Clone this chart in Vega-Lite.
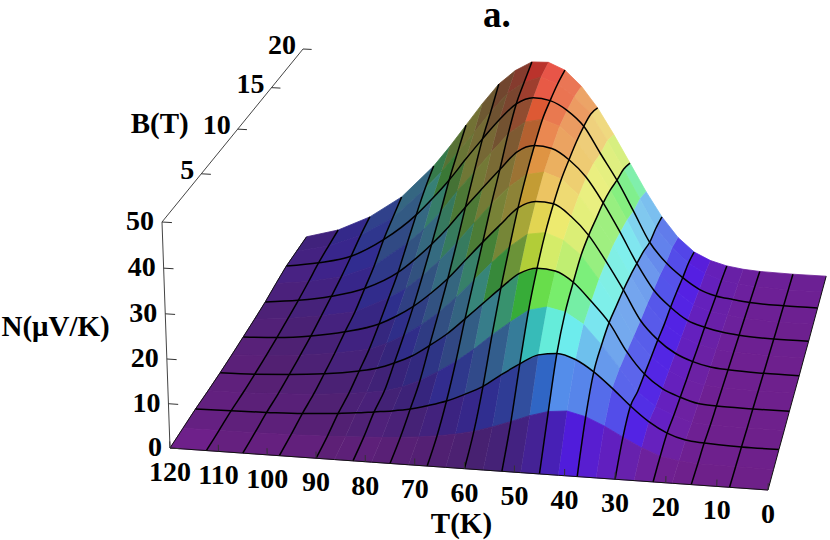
{"$schema":"https://vega.github.io/schema/vega-lite/v6.json","width":830,"height":540,"padding":0,"autosize":{"type":"none"},"background":"white","config":{"view":{"stroke":null}},
"title":{"text":"a.","anchor":"start","dx":483,"offset":-35,"font":"Liberation Serif","fontWeight":"bold","fontSize":37,"color":"black"},
"datasets":{"surface":[
{"T":0,"B":20,"N":0.8},{"T":7.5,"B":20,"N":0.8},{"T":15,"B":20,"N":1},{"T":18.75,"B":20,"N":1.3},{"T":22.5,"B":20,"N":1.9},{"T":26.25,"B":20,"N":3},{"T":30,"B":20,"N":4.9},{"T":33.75,"B":20,"N":8.3},{"T":37.5,"B":20,"N":13.2},{"T":41.25,"B":20,"N":19.3},{"T":45,"B":20,"N":26.1},{"T":48.75,"B":20,"N":32.9},{"T":52.5,"B":20,"N":39.2},{"T":56.25,"B":20,"N":44.3},{"T":60,"B":20,"N":48},{"T":63.75,"B":20,"N":49.7},{"T":67.5,"B":20,"N":49.6},{"T":71.25,"B":20,"N":47.3},{"T":75,"B":20,"N":43.8},{"T":78.75,"B":20,"N":38.8},{"T":82.5,"B":20,"N":33.3},{"T":86.25,"B":20,"N":27.8},{"T":90,"B":20,"N":22.7},{"T":97.5,"B":20,"N":14.5},{"T":105,"B":20,"N":9},{"T":112.5,"B":20,"N":5.2},{"T":120,"B":20,"N":3},
{"T":0,"B":18.33,"N":0.7},{"T":7.5,"B":18.33,"N":0.7},{"T":15,"B":18.33,"N":1},{"T":18.75,"B":18.33,"N":1.5},{"T":22.5,"B":18.33,"N":2.1},{"T":26.25,"B":18.33,"N":3.5},{"T":30,"B":18.33,"N":5.9},{"T":33.75,"B":18.33,"N":9.4},{"T":37.5,"B":18.33,"N":14},{"T":41.25,"B":18.33,"N":21},{"T":45,"B":18.33,"N":28},{"T":48.75,"B":18.33,"N":34.8},{"T":52.5,"B":18.33,"N":41},{"T":56.25,"B":18.33,"N":45},{"T":60,"B":18.33,"N":47.8},{"T":63.75,"B":18.33,"N":49.3},{"T":67.5,"B":18.33,"N":47.8},{"T":71.25,"B":18.33,"N":44.9},{"T":75,"B":18.33,"N":40.2},{"T":78.75,"B":18.33,"N":35},{"T":82.5,"B":18.33,"N":30},{"T":86.25,"B":18.33,"N":24.9},{"T":90,"B":18.33,"N":20.5},{"T":97.5,"B":18.33,"N":12.8},{"T":105,"B":18.33,"N":7.9},{"T":112.5,"B":18.33,"N":4.8},{"T":120,"B":18.33,"N":3},
{"T":0,"B":16.67,"N":0.6},{"T":7.5,"B":16.67,"N":0.6},{"T":15,"B":16.67,"N":0.9},{"T":18.75,"B":16.67,"N":1.4},{"T":22.5,"B":16.67,"N":2},{"T":26.25,"B":16.67,"N":3.4},{"T":30,"B":16.67,"N":6},{"T":33.75,"B":16.67,"N":9.4},{"T":37.5,"B":16.67,"N":14.2},{"T":41.25,"B":16.67,"N":21.6},{"T":45,"B":16.67,"N":28.8},{"T":48.75,"B":16.67,"N":35},{"T":52.5,"B":16.67,"N":41.3},{"T":56.25,"B":16.67,"N":44.9},{"T":60,"B":16.67,"N":47},{"T":63.75,"B":16.67,"N":47.5},{"T":67.5,"B":16.67,"N":45.8},{"T":71.25,"B":16.67,"N":41.8},{"T":75,"B":16.67,"N":37},{"T":78.75,"B":16.67,"N":31.9},{"T":82.5,"B":16.67,"N":26.6},{"T":86.25,"B":16.67,"N":21.9},{"T":90,"B":16.67,"N":17.6},{"T":97.5,"B":16.67,"N":11},{"T":105,"B":16.67,"N":6.4},{"T":112.5,"B":16.67,"N":4.3},{"T":120,"B":16.67,"N":3},
{"T":0,"B":15,"N":0.5},{"T":7.5,"B":15,"N":0.5},{"T":15,"B":15,"N":0.9},{"T":18.75,"B":15,"N":1.4},{"T":22.5,"B":15,"N":2.1},{"T":26.25,"B":15,"N":3.5},{"T":30,"B":15,"N":6.4},{"T":33.75,"B":15,"N":10.2},{"T":37.5,"B":15,"N":15.6},{"T":41.25,"B":15,"N":23},{"T":45,"B":15,"N":29.9},{"T":48.75,"B":15,"N":36.1},{"T":52.5,"B":15,"N":41},{"T":56.25,"B":15,"N":44.4},{"T":60,"B":15,"N":45.8},{"T":63.75,"B":15,"N":45},{"T":67.5,"B":15,"N":41.9},{"T":71.25,"B":15,"N":37.3},{"T":75,"B":15,"N":32.4},{"T":78.75,"B":15,"N":27.6},{"T":82.5,"B":15,"N":22.3},{"T":86.25,"B":15,"N":17.9},{"T":90,"B":15,"N":14.3},{"T":97.5,"B":15,"N":8.3},{"T":105,"B":15,"N":5.1},{"T":112.5,"B":15,"N":3.4},{"T":120,"B":15,"N":2.4},
{"T":0,"B":13.33,"N":0.4},{"T":7.5,"B":13.33,"N":0.4},{"T":15,"B":13.33,"N":0.8},{"T":18.75,"B":13.33,"N":1.3},{"T":22.5,"B":13.33,"N":2.2},{"T":26.25,"B":13.33,"N":3.6},{"T":30,"B":13.33,"N":6.5},{"T":33.75,"B":13.33,"N":10.4},{"T":37.5,"B":13.33,"N":16.5},{"T":41.25,"B":13.33,"N":23.7},{"T":45,"B":13.33,"N":30.4},{"T":48.75,"B":13.33,"N":36.2},{"T":52.5,"B":13.33,"N":40.1},{"T":56.25,"B":13.33,"N":42.5},{"T":60,"B":13.33,"N":43},{"T":63.75,"B":13.33,"N":41.3},{"T":67.5,"B":13.33,"N":36.9},{"T":71.25,"B":13.33,"N":32.3},{"T":75,"B":13.33,"N":27.6},{"T":78.75,"B":13.33,"N":22.6},{"T":82.5,"B":13.33,"N":18.2},{"T":86.25,"B":13.33,"N":14.3},{"T":90,"B":13.33,"N":10.9},{"T":97.5,"B":13.33,"N":6.5},{"T":105,"B":13.33,"N":4.1},{"T":112.5,"B":13.33,"N":2.6},{"T":120,"B":13.33,"N":1.7},
{"T":0,"B":11.67,"N":0.4},{"T":7.5,"B":11.67,"N":0.4},{"T":15,"B":11.67,"N":0.7},{"T":18.75,"B":11.67,"N":1.1},{"T":22.5,"B":11.67,"N":2},{"T":26.25,"B":11.67,"N":3.6},{"T":30,"B":11.67,"N":6.3},{"T":33.75,"B":11.67,"N":10.8},{"T":37.5,"B":11.67,"N":17.3},{"T":41.25,"B":11.67,"N":24.4},{"T":45,"B":11.67,"N":30.2},{"T":48.75,"B":11.67,"N":35.5},{"T":52.5,"B":11.67,"N":39},{"T":56.25,"B":11.67,"N":40.4},{"T":60,"B":11.67,"N":39.6},{"T":63.75,"B":11.67,"N":36.5},{"T":67.5,"B":11.67,"N":32.3},{"T":71.25,"B":11.67,"N":27.6},{"T":75,"B":11.67,"N":22.7},{"T":78.75,"B":11.67,"N":18.3},{"T":82.5,"B":11.67,"N":14.4},{"T":86.25,"B":11.67,"N":11},{"T":90,"B":11.67,"N":8.5},{"T":97.5,"B":11.67,"N":4.7},{"T":105,"B":11.67,"N":3.2},{"T":112.5,"B":11.67,"N":2},{"T":120,"B":11.67,"N":1.3},
{"T":0,"B":10,"N":0.3},{"T":7.5,"B":10,"N":0.3},{"T":15,"B":10,"N":0.6},{"T":18.75,"B":10,"N":1},{"T":22.5,"B":10,"N":2},{"T":26.25,"B":10,"N":3.7},{"T":30,"B":10,"N":6.6},{"T":33.75,"B":10,"N":10.9},{"T":37.5,"B":10,"N":17.8},{"T":41.25,"B":10,"N":24.2},{"T":45,"B":10,"N":30},{"T":48.75,"B":10,"N":34.1},{"T":52.5,"B":10,"N":36.8},{"T":56.25,"B":10,"N":37.1},{"T":60,"B":10,"N":35.4},{"T":63.75,"B":10,"N":31.3},{"T":67.5,"B":10,"N":27},{"T":71.25,"B":10,"N":22.5},{"T":75,"B":10,"N":18},{"T":78.75,"B":10,"N":14.2},{"T":82.5,"B":10,"N":10.9},{"T":86.25,"B":10,"N":8.3},{"T":90,"B":10,"N":6.2},{"T":97.5,"B":10,"N":3.8},{"T":105,"B":10,"N":2.3},{"T":112.5,"B":10,"N":1.4},{"T":120,"B":10,"N":1},
{"T":0,"B":8.33,"N":0.3},{"T":7.5,"B":8.33,"N":0.3},{"T":15,"B":8.33,"N":0.5},{"T":18.75,"B":8.33,"N":0.8},{"T":22.5,"B":8.33,"N":1.9},{"T":26.25,"B":8.33,"N":3.6},{"T":30,"B":8.33,"N":6.6},{"T":33.75,"B":8.33,"N":11.2},{"T":37.5,"B":8.33,"N":17.9},{"T":41.25,"B":8.33,"N":23.8},{"T":45,"B":8.33,"N":29.1},{"T":48.75,"B":8.33,"N":32.3},{"T":52.5,"B":8.33,"N":33.8},{"T":56.25,"B":8.33,"N":33.2},{"T":60,"B":8.33,"N":30.1},{"T":63.75,"B":8.33,"N":26.2},{"T":67.5,"B":8.33,"N":21.9},{"T":71.25,"B":8.33,"N":17.7},{"T":75,"B":8.33,"N":13.9},{"T":78.75,"B":8.33,"N":10.7},{"T":82.5,"B":8.33,"N":8},{"T":86.25,"B":8.33,"N":5.8},{"T":90,"B":8.33,"N":4.2},{"T":97.5,"B":8.33,"N":2.7},{"T":105,"B":8.33,"N":1.7},{"T":112.5,"B":8.33,"N":1},{"T":120,"B":8.33,"N":0.7},
{"T":0,"B":6.67,"N":0.3},{"T":7.5,"B":6.67,"N":0.3},{"T":15,"B":6.67,"N":0.4},{"T":18.75,"B":6.67,"N":0.7},{"T":22.5,"B":6.67,"N":1.9},{"T":26.25,"B":6.67,"N":3.6},{"T":30,"B":6.67,"N":6.7},{"T":33.75,"B":6.67,"N":11.6},{"T":37.5,"B":6.67,"N":18},{"T":41.25,"B":6.67,"N":22.6},{"T":45,"B":6.67,"N":26.7},{"T":48.75,"B":6.67,"N":29},{"T":52.5,"B":6.67,"N":29.4},{"T":56.25,"B":6.67,"N":27.9},{"T":60,"B":6.67,"N":24.4},{"T":63.75,"B":6.67,"N":20.6},{"T":67.5,"B":6.67,"N":16.8},{"T":71.25,"B":6.67,"N":13.1},{"T":75,"B":6.67,"N":10.1},{"T":78.75,"B":6.67,"N":7.4},{"T":82.5,"B":6.67,"N":5.5},{"T":86.25,"B":6.67,"N":4},{"T":90,"B":6.67,"N":3.1},{"T":97.5,"B":6.67,"N":1.9},{"T":105,"B":6.67,"N":1.2},{"T":112.5,"B":6.67,"N":0.7},{"T":120,"B":6.67,"N":0.5},
{"T":0,"B":5,"N":0.2},{"T":7.5,"B":5,"N":0.2},{"T":15,"B":5,"N":0.3},{"T":18.75,"B":5,"N":0.6},{"T":22.5,"B":5,"N":1.9},{"T":26.25,"B":5,"N":3.7},{"T":30,"B":5,"N":6.8},{"T":33.75,"B":5,"N":11.9},{"T":37.5,"B":5,"N":16.9},{"T":41.25,"B":5,"N":21.3},{"T":45,"B":5,"N":23.8},{"T":48.75,"B":5,"N":24.7},{"T":52.5,"B":5,"N":23.7},{"T":56.25,"B":5,"N":20.8},{"T":60,"B":5,"N":17.6},{"T":63.75,"B":5,"N":14.1},{"T":67.5,"B":5,"N":11},{"T":71.25,"B":5,"N":8.4},{"T":75,"B":5,"N":6.1},{"T":78.75,"B":5,"N":4.3},{"T":82.5,"B":5,"N":3.1},{"T":86.25,"B":5,"N":2.5},{"T":90,"B":5,"N":2},{"T":97.5,"B":5,"N":1.2},{"T":105,"B":5,"N":0.8},{"T":112.5,"B":5,"N":0.5},{"T":120,"B":5,"N":0.4},
{"T":0,"B":3.33,"N":0.2},{"T":7.5,"B":3.33,"N":0.2},{"T":15,"B":3.33,"N":0.5},{"T":18.75,"B":3.33,"N":0.9},{"T":22.5,"B":3.33,"N":2.2},{"T":26.25,"B":3.33,"N":4.5},{"T":30,"B":3.33,"N":7.75},{"T":33.75,"B":3.33,"N":11.5},{"T":37.5,"B":3.33,"N":14.9},{"T":41.25,"B":3.33,"N":17.4},{"T":45,"B":3.33,"N":18.5},{"T":48.75,"B":3.33,"N":17.9},{"T":52.5,"B":3.33,"N":15.6},{"T":56.25,"B":3.33,"N":12.9},{"T":60,"B":3.33,"N":10},{"T":63.75,"B":3.33,"N":7.9},{"T":67.5,"B":3.33,"N":6.1},{"T":71.25,"B":3.33,"N":4.8},{"T":75,"B":3.33,"N":3.7},{"T":78.75,"B":3.33,"N":3},{"T":82.5,"B":3.33,"N":2.5},{"T":86.25,"B":3.33,"N":2},{"T":90,"B":3.33,"N":1.6},{"T":97.5,"B":3.33,"N":1},{"T":105,"B":3.33,"N":0.7},{"T":112.5,"B":3.33,"N":0.5},{"T":120,"B":3.33,"N":0.4},
{"T":0,"B":1.67,"N":0.1},{"T":7.5,"B":1.67,"N":0.1},{"T":15,"B":1.67,"N":0.2},{"T":18.75,"B":1.67,"N":0.5},{"T":22.5,"B":1.67,"N":1.3},{"T":26.25,"B":1.67,"N":2.9},{"T":30,"B":1.67,"N":5},{"T":33.75,"B":1.67,"N":7.2},{"T":37.5,"B":1.67,"N":9},{"T":41.25,"B":1.67,"N":10},{"T":45,"B":1.67,"N":9.6},{"T":48.75,"B":1.67,"N":8.4},{"T":52.5,"B":1.67,"N":6.8},{"T":56.25,"B":1.67,"N":5.3},{"T":60,"B":1.67,"N":4},{"T":63.75,"B":1.67,"N":3.1},{"T":67.5,"B":1.67,"N":2.4},{"T":71.25,"B":1.67,"N":1.9},{"T":75,"B":1.67,"N":1.5},{"T":78.75,"B":1.67,"N":1.2},{"T":82.5,"B":1.67,"N":1},{"T":86.25,"B":1.67,"N":0.8},{"T":90,"B":1.67,"N":0.6},{"T":97.5,"B":1.67,"N":0.4},{"T":105,"B":1.67,"N":0.3},{"T":112.5,"B":1.67,"N":0.2},{"T":120,"B":1.67,"N":0.2},
{"T":0,"B":0,"N":0},{"T":7.5,"B":0,"N":0},{"T":15,"B":0,"N":0},{"T":18.75,"B":0,"N":0},{"T":22.5,"B":0,"N":0},{"T":26.25,"B":0,"N":0},{"T":30,"B":0,"N":0},{"T":33.75,"B":0,"N":0},{"T":37.5,"B":0,"N":0},{"T":41.25,"B":0,"N":0},{"T":45,"B":0,"N":0},{"T":48.75,"B":0,"N":0},{"T":52.5,"B":0,"N":0},{"T":56.25,"B":0,"N":0},{"T":60,"B":0,"N":0},{"T":63.75,"B":0,"N":0},{"T":67.5,"B":0,"N":0},{"T":71.25,"B":0,"N":0},{"T":75,"B":0,"N":0},{"T":78.75,"B":0,"N":0},{"T":82.5,"B":0,"N":0},{"T":86.25,"B":0,"N":0},{"T":90,"B":0,"N":0},{"T":97.5,"B":0,"N":0},{"T":105,"B":0,"N":0},{"T":112.5,"B":0,"N":0},{"T":120,"B":0,"N":0}],
"ticks":[{"axis":"T","T":0,"B":0,"N":0,"label":"0"},{"axis":"T","T":10,"B":0,"N":0,"label":"10"},{"axis":"T","T":20,"B":0,"N":0,"label":"20"},{"axis":"T","T":30,"B":0,"N":0,"label":"30"},{"axis":"T","T":40,"B":0,"N":0,"label":"40"},{"axis":"T","T":50,"B":0,"N":0,"label":"50"},{"axis":"T","T":60,"B":0,"N":0,"label":"60"},{"axis":"T","T":70,"B":0,"N":0,"label":"70"},{"axis":"T","T":80,"B":0,"N":0,"label":"80"},{"axis":"T","T":90,"B":0,"N":0,"label":"90"},{"axis":"T","T":100,"B":0,"N":0,"label":"100"},{"axis":"T","T":110,"B":0,"N":0,"label":"110"},{"axis":"T","T":120,"B":0,"N":0,"label":"120"},
{"axis":"N","T":120,"B":0,"N":0,"label":"0"},{"axis":"N","T":120,"B":0,"N":10,"label":"10"},{"axis":"N","T":120,"B":0,"N":20,"label":"20"},{"axis":"N","T":120,"B":0,"N":30,"label":"30"},{"axis":"N","T":120,"B":0,"N":40,"label":"40"},{"axis":"N","T":120,"B":0,"N":50,"label":"50"},
{"axis":"B","T":120,"B":5,"N":50,"label":"5"},{"axis":"B","T":120,"B":10,"N":50,"label":"10"},{"axis":"B","T":120,"B":15,"N":50,"label":"15"},{"axis":"B","T":120,"B":20,"N":50,"label":"20"}],
"box":[{"T":120,"B":0,"N":0,"o":0},{"T":120,"B":0,"N":50,"o":1},{"T":120,"B":20,"N":50,"o":2}],
"titles":[{"label":"N(μV/K)","T":120,"B":0,"N":27},{"label":"B(T)","T":120,"B":10,"N":50},{"label":"T(K)","T":60,"B":0,"N":0}]},
"resolve":{"scale":{"x":"shared","y":"shared"}},
"layer":[
{"data":{"name":"surface"},"transform":[
{"calculate":"indexof([0,7.5,15,18.75,22.5,26.25,30,33.75,37.5,41.25,45,48.75,52.5,56.25,60,63.75,67.5,71.25,75,78.75,82.5,86.25,90,97.5,105,112.5,120],datum.T)","as":"it"},
{"calculate":"round(datum.B/1.6667)","as":"ib"},
{"calculate":"1-datum.T/120","as":"u"},{"calculate":"datum.B/20","as":"b"},{"calculate":"datum.N/50","as":"n"},
{"calculate":"1-0.03*datum.u+0.155*datum.b-0.0255*datum.n","as":"den"},
{"calculate":"(170+574.96*datum.u+184.37*datum.b-12.13*datum.n)/datum.den","as":"px"},
{"calculate":"(448+27.3*datum.u-160.99*datum.b-231.66*datum.n)/datum.den","as":"py"},
{"calculate":"[0,1,2,3]","as":"c"},{"flatten":["c"]},
{"calculate":"datum.it-((datum.c==1||datum.c==2)?1:0)","as":"cit"},
{"calculate":"datum.ib-(datum.c>=2?1:0)","as":"cib"},
{"filter":"datum.cit>=0&&datum.cib>=0&&datum.cit<26&&datum.cib<12"},
{"calculate":"datum.cit*100+datum.cib","as":"cell"},
{"calculate":"((datum.c==1||datum.c==2)?1:-1)*datum.N","as":"sN"},
{"joinaggregate":[{"op":"mean","field":"N","as":"m"},{"op":"sum","field":"sN","as":"sS"},{"op":"min","field":"T","as":"t0"},{"op":"max","field":"T","as":"t1"}],"groupby":["cell"]},
{"calculate":"datum.sS/(2*(datum.t1-datum.t0))","as":"sl"},
{"calculate":"max(0,datum.m<2?285-7.5*datum.m:datum.m<6?270-5*(datum.m-2):datum.m<18?250-4.17*(datum.m-6):datum.m<22?200-8.75*(datum.m-18):datum.m<25?165-13.3*(datum.m-22):datum.m<30?125-10*(datum.m-25):datum.m<37?75-3.86*(datum.m-30):datum.m<43?48-3.83*(datum.m-37):25-3.57*(datum.m-43))","as":"hue"},
{"calculate":"clamp(0.33+0.25*min(datum.m/8,1)+0.08*clamp((datum.m-8)/12,0,1)-0.08*clamp((datum.m-36)/12,0,1)+(datum.sl>0?0.04*datum.sl:-0.28*sqrt(-datum.sl)),0.27,0.72)","as":"lit"},
{"calculate":"datum.sl<0?max(0.35,0.62+0.16*min(datum.m/5,1)-0.35*sqrt(-datum.sl)):0.62+0.16*min(datum.m/5,1)","as":"sat"},
{"calculate":"'hsl('+datum.hue+','+(100*datum.sat)+'%,'+(100*datum.lit)+'%)'","as":"col"}],
"mark":{"type":"line","strokeWidth":0.8,"clip":false},
"encoding":{"x":{"field":"px","type":"quantitative","scale":{"domain":[0,830],"nice":false,"zero":false},"axis":null},"y":{"field":"py","type":"quantitative","scale":{"domain":[540,0],"nice":false,"zero":false},"axis":null},"detail":{"field":"cell"},"order":{"field":"c"},"fill":{"field":"col","type":"nominal","scale":null},"stroke":{"field":"col","type":"nominal","scale":null}}},
{"data":{"name":"surface"},"transform":[
{"calculate":"round(datum.B/1.6667)","as":"ib"},
{"filter":"datum.ib%2==0&&datum.ib>0&&datum.ib<12"},
{"calculate":"1-datum.T/120","as":"u"},{"calculate":"datum.B/20","as":"b"},{"calculate":"datum.N/50","as":"n"},
{"calculate":"1-0.03*datum.u+0.155*datum.b-0.0255*datum.n","as":"den"},
{"calculate":"(170+574.96*datum.u+184.37*datum.b-12.13*datum.n)/datum.den","as":"px"},
{"calculate":"(448+27.3*datum.u-160.99*datum.b-231.66*datum.n)/datum.den","as":"py"}],
"mark":{"type":"line","stroke":"black","strokeWidth":1.5,"interpolate":"monotone"},
"encoding":{"x":{"field":"px","type":"quantitative"},"y":{"field":"py","type":"quantitative"},"detail":{"field":"ib"},"order":{"field":"T"}}},
{"data":{"name":"surface"},"transform":[
{"calculate":"round(datum.B/1.6667)","as":"ib"},
{"filter":"datum.T%7.5==0&&datum.T>0&&datum.T<120"},
{"calculate":"1-datum.T/120","as":"u"},{"calculate":"datum.B/20","as":"b"},{"calculate":"datum.N/50","as":"n"},
{"calculate":"1-0.03*datum.u+0.155*datum.b-0.0255*datum.n","as":"den"},
{"calculate":"(170+574.96*datum.u+184.37*datum.b-12.13*datum.n)/datum.den","as":"px"},
{"calculate":"(448+27.3*datum.u-160.99*datum.b-231.66*datum.n)/datum.den","as":"py"}],
"mark":{"type":"line","stroke":"black","strokeWidth":1.5,"interpolate":"cardinal"},
"encoding":{"x":{"field":"px","type":"quantitative"},"y":{"field":"py","type":"quantitative"},"detail":{"field":"T"},"order":{"field":"B"}}},
{"data":{"name":"surface"},"transform":[
{"filter":"datum.T==0||datum.T==120"},
{"calculate":"1-datum.T/120","as":"u"},{"calculate":"datum.B/20","as":"b"},{"calculate":"datum.N/50","as":"n"},
{"calculate":"1-0.03*datum.u+0.155*datum.b-0.0255*datum.n","as":"den"},
{"calculate":"(170+574.96*datum.u+184.37*datum.b-12.13*datum.n)/datum.den","as":"px"},
{"calculate":"(448+27.3*datum.u-160.99*datum.b-231.66*datum.n)/datum.den","as":"py"}],
"mark":{"type":"line","stroke":"#111","strokeWidth":1},
"encoding":{"x":{"field":"px","type":"quantitative"},"y":{"field":"py","type":"quantitative"},"detail":{"field":"T"},"order":{"field":"B"}}},
{"data":{"name":"surface"},"transform":[{"filter":"datum.B==0"},
{"calculate":"1-datum.T/120","as":"u"},{"calculate":"datum.B/20","as":"b"},{"calculate":"datum.N/50","as":"n"},
{"calculate":"1-0.03*datum.u+0.155*datum.b-0.0255*datum.n","as":"den"},
{"calculate":"(170+574.96*datum.u+184.37*datum.b-12.13*datum.n)/datum.den","as":"px"},
{"calculate":"(448+27.3*datum.u-160.99*datum.b-231.66*datum.n)/datum.den","as":"py"}],
"mark":{"type":"line","stroke":"#111","strokeWidth":1},
"encoding":{"x":{"field":"px","type":"quantitative"},"y":{"field":"py","type":"quantitative"},"order":{"field":"T"}}},
{"data":{"name":"box"},"transform":[
{"calculate":"1-datum.T/120","as":"u"},{"calculate":"datum.B/20","as":"b"},{"calculate":"datum.N/50","as":"n"},
{"calculate":"1-0.03*datum.u+0.155*datum.b-0.0255*datum.n","as":"den"},
{"calculate":"(170+574.96*datum.u+184.37*datum.b-12.13*datum.n)/datum.den","as":"px"},
{"calculate":"(448+27.3*datum.u-160.99*datum.b-231.66*datum.n)/datum.den","as":"py"}],
"mark":{"type":"line","stroke":"#444","strokeWidth":1},
"encoding":{"x":{"field":"px","type":"quantitative"},"y":{"field":"py","type":"quantitative"},"order":{"field":"o"}}},
{"data":{"name":"ticks"},"transform":[
{"calculate":"1-datum.T/120","as":"u"},{"calculate":"datum.B/20","as":"b"},{"calculate":"datum.N/50","as":"n"},
{"calculate":"1-0.03*datum.u+0.155*datum.b-0.0255*datum.n","as":"den"},
{"calculate":"(170+574.96*datum.u+184.37*datum.b-12.13*datum.n)/datum.den","as":"px"},
{"calculate":"(448+27.3*datum.u-160.99*datum.b-231.66*datum.n)/datum.den","as":"py"},
{"calculate":"datum.axis=='T'?datum.u:datum.u+0.0167","as":"u2"},
{"calculate":"datum.axis=='T'?datum.n+0.03:datum.n","as":"n2"},
{"calculate":"1-0.03*datum.u2+0.155*datum.b-0.0255*datum.n2","as":"den2"},
{"calculate":"(170+574.96*datum.u2+184.37*datum.b-12.13*datum.n2)/datum.den2","as":"px2"},
{"calculate":"(448+27.3*datum.u2-160.99*datum.b-231.66*datum.n2)/datum.den2","as":"py2"}],
"mark":{"type":"rule","stroke":"#333","strokeWidth":1},
"encoding":{"x":{"field":"px","type":"quantitative"},"y":{"field":"py","type":"quantitative"},"x2":{"field":"px2"},"y2":{"field":"py2"}}},
{"data":{"name":"ticks"},"transform":[{"filter":"datum.axis=='T'"},
{"calculate":"1-datum.T/120","as":"u"},{"calculate":"datum.B/20","as":"b"},{"calculate":"datum.N/50","as":"n"},
{"calculate":"1-0.03*datum.u+0.155*datum.b-0.0255*datum.n","as":"den"},
{"calculate":"(170+574.96*datum.u+184.37*datum.b-12.13*datum.n)/datum.den","as":"px"},
{"calculate":"(448+27.3*datum.u-160.99*datum.b-231.66*datum.n)/datum.den","as":"py"}],
"mark":{"type":"text","font":"Liberation Serif","fontWeight":"bold","fontSize":28,"color":"black","dy":25,"align":"center","baseline":"middle"},
"encoding":{"x":{"field":"px","type":"quantitative"},"y":{"field":"py","type":"quantitative"},"text":{"field":"label"}}},
{"data":{"name":"ticks"},"transform":[{"filter":"datum.axis=='N'"},
{"calculate":"1-datum.T/120","as":"u"},{"calculate":"datum.B/20","as":"b"},{"calculate":"datum.N/50","as":"n"},
{"calculate":"1-0.03*datum.u+0.155*datum.b-0.0255*datum.n","as":"den"},
{"calculate":"(170+574.96*datum.u+184.37*datum.b-12.13*datum.n)/datum.den","as":"px"},
{"calculate":"(448+27.3*datum.u-160.99*datum.b-231.66*datum.n)/datum.den","as":"py"}],
"mark":{"type":"text","font":"Liberation Serif","fontWeight":"bold","fontSize":28,"color":"black","dx":-8,"align":"right","baseline":"middle"},
"encoding":{"x":{"field":"px","type":"quantitative"},"y":{"field":"py","type":"quantitative"},"text":{"field":"label"}}},
{"data":{"name":"ticks"},"transform":[{"filter":"datum.axis=='B'"},
{"calculate":"1-datum.T/120","as":"u"},{"calculate":"datum.B/20","as":"b"},{"calculate":"datum.N/50","as":"n"},
{"calculate":"1-0.03*datum.u+0.155*datum.b-0.0255*datum.n","as":"den"},
{"calculate":"(170+574.96*datum.u+184.37*datum.b-12.13*datum.n)/datum.den","as":"px"},
{"calculate":"(448+27.3*datum.u-160.99*datum.b-231.66*datum.n)/datum.den","as":"py"}],
"mark":{"type":"text","font":"Liberation Serif","fontWeight":"bold","fontSize":28,"color":"black","dx":-7,"dy":-3,"align":"right","baseline":"middle"},
"encoding":{"x":{"field":"px","type":"quantitative"},"y":{"field":"py","type":"quantitative"},"text":{"field":"label"}}},
{"data":{"name":"titles"},"transform":[{"filter":"datum.label=='N(μV/K)'"},
{"calculate":"1-datum.T/120","as":"u"},{"calculate":"datum.B/20","as":"b"},{"calculate":"datum.N/50","as":"n"},
{"calculate":"1-0.03*datum.u+0.155*datum.b-0.0255*datum.n","as":"den"},
{"calculate":"(170+574.96*datum.u+184.37*datum.b-12.13*datum.n)/datum.den","as":"px"},
{"calculate":"(448+27.3*datum.u-160.99*datum.b-231.66*datum.n)/datum.den","as":"py"}],
"mark":{"type":"text","font":"Liberation Serif","fontWeight":"bold","fontSize":29,"color":"black","dx":-56,"align":"right","baseline":"middle"},
"encoding":{"x":{"field":"px","type":"quantitative"},"y":{"field":"py","type":"quantitative"},"text":{"field":"label"}}},
{"data":{"name":"titles"},"transform":[{"filter":"datum.label=='B(T)'"},
{"calculate":"1-datum.T/120","as":"u"},{"calculate":"datum.B/20","as":"b"},{"calculate":"datum.N/50","as":"n"},
{"calculate":"1-0.03*datum.u+0.155*datum.b-0.0255*datum.n","as":"den"},
{"calculate":"(170+574.96*datum.u+184.37*datum.b-12.13*datum.n)/datum.den","as":"px"},
{"calculate":"(448+27.3*datum.u-160.99*datum.b-231.66*datum.n)/datum.den","as":"py"}],
"mark":{"type":"text","font":"Liberation Serif","fontWeight":"bold","fontSize":29,"color":"black","dx":-49,"dy":-5,"align":"right","baseline":"middle"},
"encoding":{"x":{"field":"px","type":"quantitative"},"y":{"field":"py","type":"quantitative"},"text":{"field":"label"}}},
{"data":{"name":"titles"},"transform":[{"filter":"datum.label=='T(K)'"},
{"calculate":"1-datum.T/120","as":"u"},{"calculate":"datum.B/20","as":"b"},{"calculate":"datum.N/50","as":"n"},
{"calculate":"1-0.03*datum.u+0.155*datum.b-0.0255*datum.n","as":"den"},
{"calculate":"(170+574.96*datum.u+184.37*datum.b-12.13*datum.n)/datum.den","as":"px"},
{"calculate":"(448+27.3*datum.u-160.99*datum.b-231.66*datum.n)/datum.den","as":"py"}],
"mark":{"type":"text","font":"Liberation Serif","fontWeight":"bold","fontSize":29,"color":"black","dx":-3,"dy":55,"align":"center","baseline":"middle"},
"encoding":{"x":{"field":"px","type":"quantitative"},"y":{"field":"py","type":"quantitative"},"text":{"field":"label"}}}
]}
